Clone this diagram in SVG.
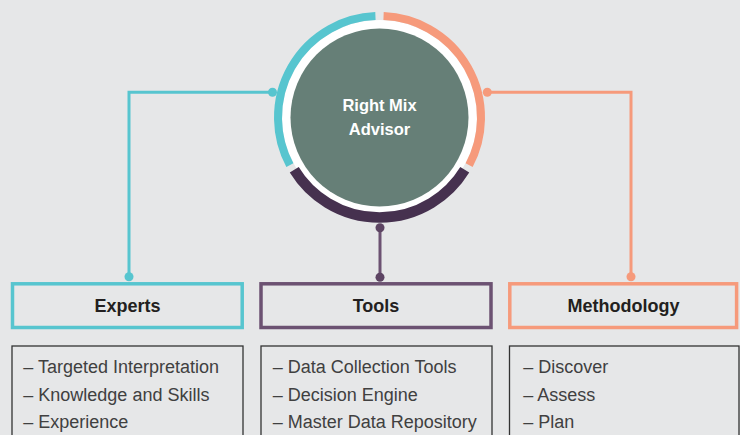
<svg xmlns="http://www.w3.org/2000/svg" width="740" height="435" viewBox="0 0 740 435">
<style>
.title{font-family:"Liberation Sans",Arial,sans-serif;font-weight:bold;font-size:18px;fill:#231f20;text-anchor:middle}
.item{font-family:"Liberation Sans",Arial,sans-serif;font-size:18px;fill:#404040}
.center{font-family:"Liberation Sans",Arial,sans-serif;font-weight:bold;font-size:16.5px;fill:#ffffff;text-anchor:middle}
.list{fill:none;stroke:#333333;stroke-width:1.3}
.conn{fill:none;stroke-width:3}
</style>
<rect width="740" height="435" fill="#e6e7e8"/>
<g id="hub">
<circle cx="379.5" cy="117.5" r="97.5" fill="#ffffff"/>
<circle cx="379.5" cy="117.5" r="89" fill="#667f77"/>
<path d="M289.88,165.15 A101.5,101.5 0 0 1 375.43,16.08" fill="none" stroke="#57c5cf" stroke-width="8"/>
<path d="M383.57,16.08 A101.5,101.5 0 0 1 469.12,165.15" fill="none" stroke="#f69a7b" stroke-width="8"/>
<path d="M464.76,169.75 A100,100 0 0 1 294.24,169.75" fill="none" stroke="#46314f" stroke-width="10.5"/>
<text class="center" x="379.5" y="111">Right Mix</text>
<text class="center" x="379.5" y="135">Advisor</text>
</g>
<g id="connectors">
<path class="conn" stroke="#57c5cf" d="M272.5,92.3 H129 V276.7"/>
<circle cx="272.5" cy="92.3" r="4.5" fill="#57c5cf"/>
<circle cx="129" cy="276.7" r="4.5" fill="#57c5cf"/>
<path class="conn" stroke="#f69a7b" d="M487.3,92.3 H631 V276.7"/>
<circle cx="487.3" cy="92.3" r="4.5" fill="#f69a7b"/>
<circle cx="631" cy="276.7" r="4.5" fill="#f69a7b"/>
<path class="conn" stroke="#6c5272" d="M380,227.7 V277.3"/>
<circle cx="380" cy="227.7" r="4.5" fill="#5d4463"/>
<circle cx="380" cy="277.3" r="4.5" fill="#5d4463"/>
</g>
<g id="experts">
<rect x="12.5" y="283.8" width="229.7" height="43.7" fill="none" stroke="#57c5cf" stroke-width="3.5"/>
<text class="title" x="127.4" y="311.5">Experts</text>
<rect class="list" x="12" y="346" width="231" height="100"/>
<text class="item" x="23.3" y="372.7">– Targeted Interpretation</text>
<text class="item" x="23.3" y="400.7">– Knowledge and Skills</text>
<text class="item" x="23.3" y="428.3">– Experience</text>
</g>
<g id="tools">
<rect x="261" y="283.8" width="230" height="43.7" fill="none" stroke="#6c5272" stroke-width="3.5"/>
<text class="title" x="376" y="311.5">Tools</text>
<rect class="list" x="261" y="346" width="231" height="100"/>
<text class="item" x="272.7" y="372.7">– Data Collection Tools</text>
<text class="item" x="272.7" y="400.7">– Decision Engine</text>
<text class="item" x="272.7" y="428.3">– Master Data Repository</text>
</g>
<g id="methodology">
<rect x="509.8" y="283.8" width="226.8" height="43.7" fill="none" stroke="#f69a7b" stroke-width="3.5"/>
<text class="title" x="623.5" y="311.5">Methodology</text>
<rect class="list" x="509.5" y="346" width="229.5" height="100"/>
<text class="item" x="523.3" y="372.7">– Discover</text>
<text class="item" x="523.3" y="400.7">– Assess</text>
<text class="item" x="523.3" y="428.3">– Plan</text>
</g>
</svg>
